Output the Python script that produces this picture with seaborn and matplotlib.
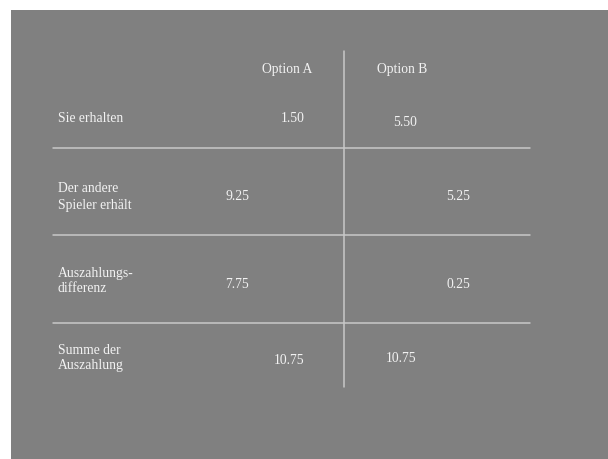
import matplotlib
matplotlib.use("Agg")
import matplotlib.pyplot as plt
import seaborn as sns
from matplotlib.patches import Rectangle

# ---- data ----
row_labels = ["Sie erhalten", "Der andere\nSpieler erhält", "Auszahlungs-\ndifferenz", "Summe der\nAuszahlung"]
col_labels = ["Option A", "Option B"]
option_a = [1.50, 9.25, 7.75, 10.75]
option_b = [5.50, 5.25, 0.25, 10.75]

# ---- layout (pixel coordinates of the 608x459 canvas) ----
row_y = [119, 197, 281, 358]
a_x = [293, 237, 237, 289]
a_y = [119, 197, 284, 361]
b_x = [405, 458, 458, 401]
b_y = [122, 197, 284, 359]
hlines_y = [148, 235, 322.5]

sns.set_style("white")
plt.rcParams["font.family"] = ["Liberation Serif", "DejaVu Serif"]

W, H = 608, 459
fig = plt.figure(figsize=(W / 100, H / 100), dpi=100)
fig.patch.set_facecolor("white")
ax = fig.add_axes([0, 0, 1, 1])
ax.set_xlim(0, W)
ax.set_ylim(H, 0)
ax.axis("off")

ax.add_patch(Rectangle((11, 10), W - 11, H - 10, facecolor="#808080", edgecolor="none", zorder=0))

line_c = "#c8c8c8"
txt_c = "#f2f2f2"
fs = 9.8

# vertical separator
ax.plot([344, 344], [51, 387], color=line_c, lw=1.1, zorder=1)
# horizontal separators
for y in hlines_y:
    ax.plot([53, 530], [y, y], color=line_c, lw=1.1, zorder=1)

# header
ax.text(287.5, 69, col_labels[0], color=txt_c, fontsize=fs, ha="center", va="center")
ax.text(402, 69.5, col_labels[1], color=txt_c, fontsize=fs, ha="center", va="center")

for i, lab in enumerate(row_labels):
    ax.text(58, row_y[i], lab, color=txt_c, fontsize=fs, ha="left", va="center", linespacing=1.3)
    ax.text(a_x[i], a_y[i], f"{option_a[i]:.2f}", color=txt_c, fontsize=fs, ha="center", va="center")
    ax.text(b_x[i], b_y[i], f"{option_b[i]:.2f}", color=txt_c, fontsize=fs, ha="center", va="center")

fig.savefig("out.png", dpi=100, facecolor="white")
